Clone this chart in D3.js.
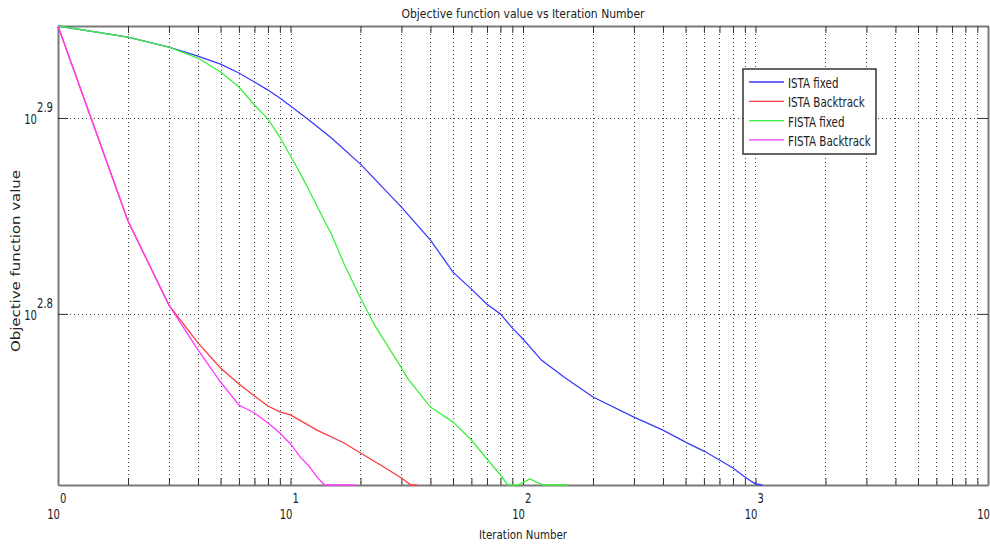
<!DOCTYPE html>
<html>
<head>
<meta charset="utf-8">
<script src="https://cdn.jsdelivr.net/npm/d3@7/dist/d3.min.js"></script>
<style>
body { margin: 0; background: #fff; }
text { font-family: "DejaVu Sans Condensed", "Liberation Sans Narrow", "DejaVu Sans", sans-serif; fill: #222; }
</style>
</head>
<body>
<svg width="990" height="544"></svg>
<script>
// values: [iteration, objective value]
var istaFixed = [[1,885],[2,873.6],[3,863.4],[4,854.3],[5,846.3],[6,837.4],[7,828.6],[8,820.8],[9,813.2],[10,805.5],
    [12,792.4],[15,775.8],[20,752.4],[30,715.3],[40,688.1],[50,662.7],[60,649.6],[70,638.2],[80,630.9],[90,620.5],
    [100,612.6],[120,597.6],[150,585.8],[200,572.2],[300,558.9],[400,550.4],[500,542.7],[600,537.0],[700,531.4],
    [800,526.4],[900,520.9],[1000,516.6],[1070,516]];
var istaBack = [[1,885],[2,703.7],[3,637.5],[4,609.8],[5,592.1],[6,581.1],[7,572.9],[8,566.2],[9,562.3],[10,560.3],
    [13,550.4],[17,542.1],[20,535.8],[24,528.9],[30,520.3],[33,516],[35,516]];
var fistaFixed = [[1,885],[2,873.6],[3,863.4],[4,852.3],[5,838.4],[6,823.7],[7,806.5],[8,793.3],[9,776.7],[10,759.6],
    [11,744.5],[12,729.8],[13,716.2],[14,703.7],[15,693.0],[17,669.0],[20,642.8],[23,622.7],[26,608.4],[30,592.1],
    [32,584.5],[40,565.5],[50,555.6],[60,544.0],[70,532.0],[80,522.1],[86,516],[95,516],[107,519.7],[122,516],[156,516]];
var fistaBack = [[1,885],[2,703.7],[3,637.5],[4,604.8],[5,582.4],[6,566.9],[7,561.6],[8,555.0],[9,548.5],[10,541.5],
    [11,533.3],[12,527.7],[13,520.9],[14,516],[19,516]];

var seriesNames = ["ISTA fixed", "ISTA Backtrack", "FISTA fixed", "FISTA Backtrack"];
var seriesColors = ["#3a3aff", "#ff3a3a", "#3cf03c", "#ff3aff"];

var xDecades = [0, 1, 2, 3, 4];
var yExps = [2.8, 2.9];

var svg = d3.select("svg");
var mLeft = 58, mRight = 988, mTop = 26, mBottom = 485;

var x = d3.scaleLog().domain([1, 10000]).range([mLeft, mRight]);
var y = d3.scaleLog().domain([516, 885]).range([mBottom, mTop]);

var xTicks = [];
xDecades.forEach(function(k) {
    if (k < 4) {
        for (var m = 1; m < 10; m++) xTicks.push(m * Math.pow(10, k));
    } else {
        xTicks.push(Math.pow(10, k));
    }
});
var yTicks = yExps.map(function(e) { return Math.pow(10, e); });

// squeeze text horizontally, the original font is a narrow one
function squeeze(sel, f) {
    sel.each(function() {
        var w = this.getComputedTextLength();
        d3.select(this).attr("textLength", w * f).attr("lengthAdjust", "spacingAndGlyphs");
    });
}

// dotted grid
svg.append("g").selectAll("line")
    .data(xTicks.filter(function(d) { return d > 1 && d < 10000; }))
    .enter().append("line")
    .attr("x1", function(d) { return Math.round(x(d)) + 0.5; })
    .attr("x2", function(d) { return Math.round(x(d)) + 0.5; })
    .attr("y1", mTop).attr("y2", mBottom)
    .attr("stroke", "#444").attr("stroke-width", 1)
    .attr("stroke-dasharray", "1,3");
svg.append("g").selectAll("line")
    .data(yTicks)
    .enter().append("line")
    .attr("x1", mLeft).attr("x2", mRight)
    .attr("y1", function(d) { return Math.round(y(d)) + 0.5; })
    .attr("y2", function(d) { return Math.round(y(d)) + 0.5; })
    .attr("stroke", "#444").attr("stroke-width", 1)
    .attr("stroke-dasharray", "1,3");

// axes (ticks point inward)
function styleAxis(g) {
    g.select(".domain").attr("stroke", "#7a7a7a").attr("stroke-width", 2);
    g.selectAll(".tick line").attr("stroke", "#333").attr("stroke-width", 1);
    g.selectAll(".tick text").remove();
}
svg.append("g").attr("transform", "translate(0," + mBottom + ")")
    .call(d3.axisBottom(x).tickValues(xTicks).tickSize(-7).tickSizeOuter(0)).call(styleAxis);
svg.append("g").attr("transform", "translate(0," + mTop + ")")
    .call(d3.axisTop(x).tickValues(xTicks).tickSize(-7).tickSizeOuter(0)).call(styleAxis);
svg.append("g").attr("transform", "translate(" + mLeft + ",0)")
    .call(d3.axisLeft(y).tickValues(yTicks).tickSize(-10).tickSizeOuter(0)).call(styleAxis);
svg.append("g").attr("transform", "translate(" + mRight + ",0)")
    .call(d3.axisRight(y).tickValues(yTicks).tickSize(-10).tickSizeOuter(0)).call(styleAxis);

// tick labels as 10^k
var xl = svg.append("g").selectAll("g").data(xDecades).enter().append("g");
xl.append("text")
    .attr("x", function(d) { return x(Math.pow(10, d)) + 2; })
    .attr("y", 519).attr("text-anchor", "end").style("font-size", "14px")
    .text("10").call(squeeze, 0.8);
xl.append("text")
    .attr("x", function(d) { return x(Math.pow(10, d)) + 2; })
    .attr("y", 503).attr("text-anchor", "start").style("font-size", "14px")
    .text(function(d) { return d; }).call(squeeze, 0.8);

var yl = svg.append("g").selectAll("g").data(yExps).enter().append("g");
yl.append("text")
    .attr("x", 37).attr("y", function(d) { return y(Math.pow(10, d)) + 6; })
    .attr("text-anchor", "end").style("font-size", "14px")
    .text("10").call(squeeze, 0.8);
yl.append("text")
    .attr("x", 37).attr("y", function(d) { return y(Math.pow(10, d)) - 6; })
    .attr("text-anchor", "start").style("font-size", "14px")
    .text(function(d) { return d.toFixed(1); }).call(squeeze, 0.8);

// curves
var line = d3.line()
    .x(function(d) { return x(d[0]); })
    .y(function(d) { return y(d[1]); });

var allSeries = [istaFixed, istaBack, fistaFixed, fistaBack];
svg.append("g").selectAll("path")
    .data(allSeries)
    .enter().append("path")
    .attr("d", line)
    .attr("fill", "none")
    .attr("stroke", function(d, i) { return seriesColors[i]; })
    .attr("stroke-width", 1.3);

// titles
svg.append("text")
    .attr("x", 523).attr("y", 18).attr("text-anchor", "middle")
    .attr("textLength", 243).attr("lengthAdjust", "spacingAndGlyphs")
    .style("font-size", "13px")
    .text("Objective function value vs Iteration Number");
svg.append("text")
    .attr("x", 523).attr("y", 539).attr("text-anchor", "middle")
    .attr("textLength", 88).attr("lengthAdjust", "spacingAndGlyphs")
    .style("font-size", "13px")
    .text("Iteration Number");
svg.append("text")
    .attr("transform", "translate(20,261) rotate(-90)")
    .attr("text-anchor", "middle")
    .attr("textLength", 182).attr("lengthAdjust", "spacingAndGlyphs")
    .style("font-size", "13px")
    .text("Objective function value");

// legend
var legend = svg.append("g").attr("transform", "translate(743,69)");
legend.append("rect")
    .attr("width", 133).attr("height", 85)
    .attr("fill", "#fff").attr("stroke", "#333").attr("stroke-width", 1.5);
var items = legend.selectAll("g.item").data(seriesNames).enter().append("g")
    .attr("class", "item")
    .attr("transform", function(d, i) { return "translate(0," + (13 + i * 19.3) + ")"; });
items.append("line")
    .attr("x1", 6).attr("x2", 41)
    .attr("stroke", function(d, i) { return seriesColors[i]; })
    .attr("stroke-width", 1.3);
items.append("text")
    .attr("x", 45).attr("y", 6)
    .style("font-size", "14px")
    .text(function(d) { return d; })
    .call(squeeze, 0.82);
</script>
</body>
</html>
